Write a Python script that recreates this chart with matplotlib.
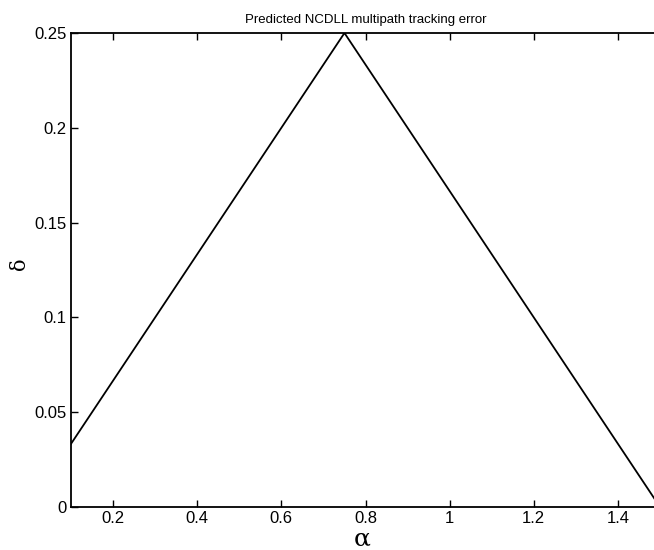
import matplotlib
matplotlib.use("Agg")
import matplotlib.pyplot as plt

alpha = [0.1, 0.75, 1.5]
delta = [0.0333, 0.25, 0.0]
xticks = [0.2, 0.4, 0.6, 0.8, 1.0, 1.2, 1.4]
xticklabels = ["0.2", "0.4", "0.6", "0.8", "1", "1.2", "1.4"]
yticks = [0, 0.05, 0.1, 0.15, 0.2, 0.25]
yticklabels = ["0", "0.05", "0.1", "0.15", "0.2", "0.25"]

plt.rcParams['font.family'] = ['Liberation Sans', 'DejaVu Sans']

fig = plt.figure(figsize=(6.54, 5.5), dpi=100)
ax = fig.add_axes([71/654, 43/550, (660-71)/654, (507-33)/550])
ax.plot(alpha, delta, color='black', linewidth=1.3)
ax.set_xlim(0.1, 1.5)
ax.set_ylim(0, 0.25)
ax.set_xticks(xticks)
ax.set_xticklabels(xticklabels)
ax.set_yticks(yticks)
ax.set_yticklabels(yticklabels)
ax.tick_params(direction='in', top=True, right=False, length=5, width=1,
               labelsize=12, pad=3)
for s in ax.spines.values():
    s.set_linewidth(1.3)
ax.set_xlabel('α', fontsize=18, family=['DejaVu Serif'])
ax.set_ylabel('δ', fontsize=15, family=['DejaVu Serif'])
ax.xaxis.set_label_coords((362-71)/589, -(539-507)/474)
ax.yaxis.set_label_coords((20-71)/589, (507-264)/474)
ax.xaxis.label.set_va('center')
ax.yaxis.label.set_ha('center')
ax.yaxis.label.set_va('center')
ax.set_title('Predicted NCDLL multipath tracking error', fontsize=9.5, pad=7)
fig.savefig('out.png', dpi=100)
